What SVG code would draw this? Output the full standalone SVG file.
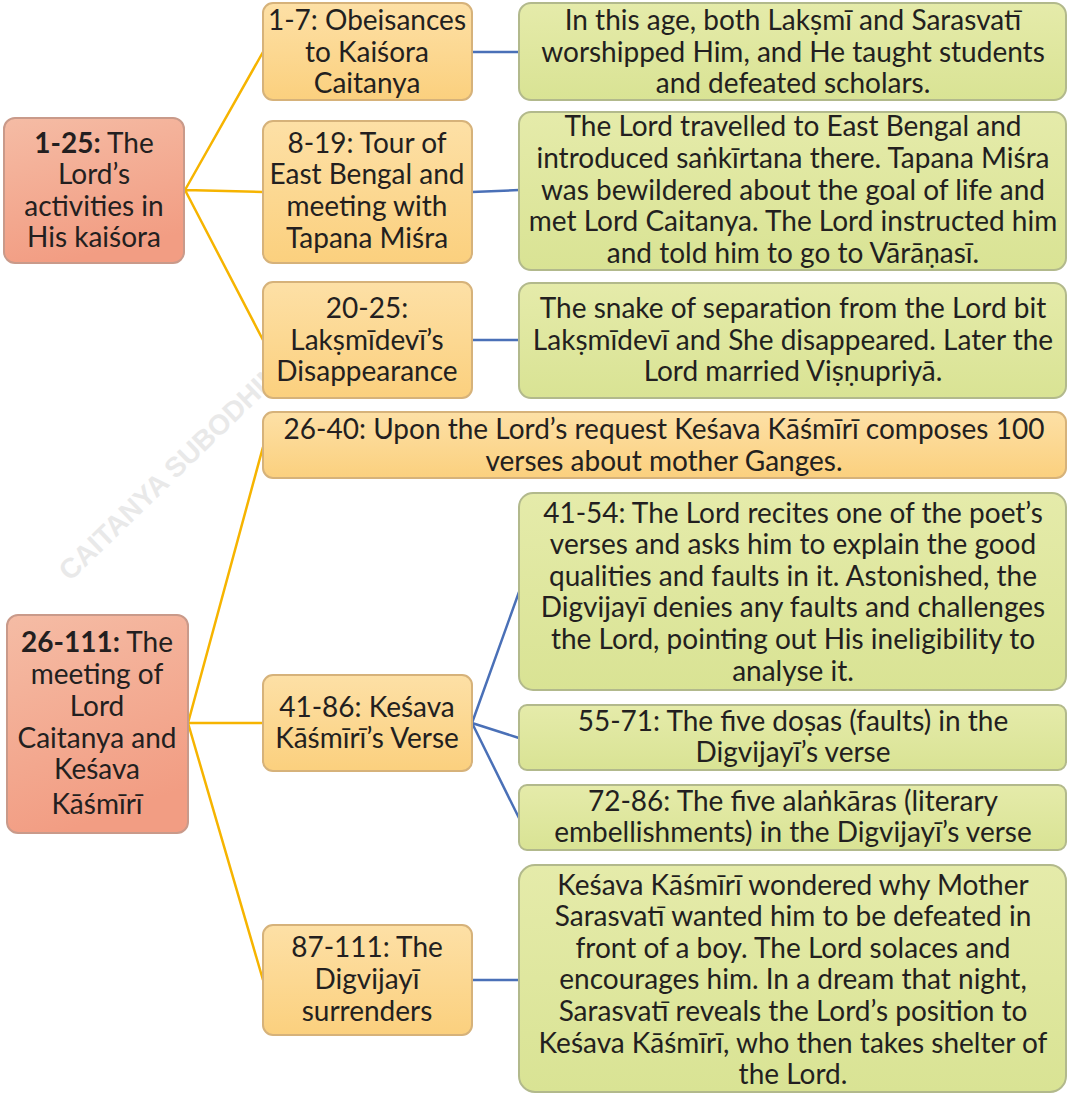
<svg xmlns="http://www.w3.org/2000/svg" width="1069" height="1094" viewBox="0 0 1069 1094">
  <defs>
    <linearGradient id="gRed" x1="0" y1="0" x2="0.3" y2="1">
      <stop offset="0" stop-color="#f5bca5"/>
      <stop offset="1" stop-color="#f29d83"/>
    </linearGradient>
    <linearGradient id="gOrange" x1="0" y1="0" x2="0" y2="1">
      <stop offset="0" stop-color="#fde0a6"/>
      <stop offset="1" stop-color="#fbd07e"/>
    </linearGradient>
    <linearGradient id="gGreen" x1="0" y1="0" x2="0" y2="1">
      <stop offset="0" stop-color="#e5ebaa"/>
      <stop offset="1" stop-color="#d9e394"/>
    </linearGradient>
    <style>
      .red { fill: url(#gRed); stroke: #c99a8a; stroke-width: 2; }
      .orange { fill: url(#gOrange); stroke: #d6b27a; stroke-width: 2; }
      .green { fill: url(#gGreen); stroke: #b2b98c; stroke-width: 2; }
      text { font-family: Lato, "Noto Sans", "DejaVu Sans", sans-serif; font-size: 28px; fill: #231f20; text-anchor: middle; }
      .b { font-weight: 700; }
      .yl { stroke: #f6b400; stroke-width: 2.5; fill: none; }
      .bl { stroke: #4a70b7; stroke-width: 2.5; fill: none; }
      .wm { font-family: "Liberation Sans", Arial, sans-serif; font-weight: 700; font-size: 28px; fill: #e9e9e9; text-anchor: start; }
    </style>
  </defs>
  <rect width="1069" height="1094" fill="#ffffff"/>

  <!-- watermark -->
  <text class="wm" transform="translate(70,582) rotate(-44)">CAITANYA SUBODHINI</text>

  <!-- connectors -->
  <g id="connectors">
    <path class="yl" d="M185,190 L263,52 M185,190 L263,192 M185,190 L263,340"/>
    <path class="yl" d="M188,723 L263,447 M188,723 L263,723 M188,723 L263,980"/>
    <path class="bl" d="M472,52 L520,52 M472,192 L519,190 M472,340 L519,340"/>
    <path class="bl" d="M472,723 L519,592 M472,723 L519,738 M472,723 L519,818"/>
    <path class="bl" d="M472,980 L519,980"/>
  </g>

  <!-- level 1 -->
  <g id="n-1-25">
    <rect class="red" x="4" y="118" width="180" height="145" rx="11"/>
    <text x="94" y="153"><tspan class="b">1-25:</tspan> The</text>
    <text x="94" y="184">Lord’s</text>
    <text x="94" y="216">activities in</text>
    <text x="94" y="247">His kaiśora</text>
  </g>
  <g id="n-26-111">
    <rect class="red" x="7" y="615" width="181" height="218" rx="11"/>
    <text x="97" y="652"><tspan class="b">26-111:</tspan> The</text>
    <text x="97" y="684">meeting of</text>
    <text x="97" y="716">Lord</text>
    <text x="97" y="748">Caitanya and</text>
    <text x="97" y="779">Keśava</text>
    <text x="97" y="814">Kāśmīrī</text>
  </g>

  <!-- level 2 -->
  <g id="n-1-7">
    <rect class="orange" x="263" y="3" width="209" height="97" rx="10"/>
    <text x="367" y="30">1-7: Obeisances</text>
    <text x="367" y="62">to Kaiśora</text>
    <text x="367" y="93">Caitanya</text>
  </g>
  <g id="n-8-19">
    <rect class="orange" x="263" y="121" width="209" height="142" rx="10"/>
    <text x="367" y="153">8-19: Tour of</text>
    <text x="367" y="184">East Bengal and</text>
    <text x="367" y="216">meeting with</text>
    <text x="367" y="248">Tapana Miśra</text>
  </g>
  <g id="n-20-25">
    <rect class="orange" x="263" y="282" width="209" height="116" rx="10"/>
    <text x="367" y="318">20-25:</text>
    <text x="367" y="350">Lakṣmīdevī’s</text>
    <text x="367" y="381">Disappearance</text>
  </g>
  <g id="n-26-40">
    <rect class="orange" x="263" y="412" width="803" height="66" rx="10"/>
    <text x="664" y="439">26-40: Upon the Lord’s request Keśava Kāśmīrī composes 100</text>
    <text x="664" y="471">verses about mother Ganges.</text>
  </g>
  <g id="n-41-86">
    <rect class="orange" x="263" y="675" width="209" height="96" rx="10"/>
    <text x="367" y="717">41-86: Keśava</text>
    <text x="367" y="748">Kāśmīrī’s Verse</text>
  </g>
  <g id="n-87-111">
    <rect class="orange" x="263" y="925" width="209" height="110" rx="10"/>
    <text x="367" y="957">87-111: The</text>
    <text x="367" y="989">Digvijayī</text>
    <text x="367" y="1021">surrenders</text>
  </g>

  <!-- level 3 -->
  <g id="d-1-7">
    <rect class="green" x="519" y="3" width="547" height="97" rx="12"/>
    <text x="793" y="30">In this age, both Lakṣmī and Sarasvatī</text>
    <text x="793" y="62">worshipped Him, and He taught students</text>
    <text x="793" y="93">and defeated scholars.</text>
  </g>
  <g id="d-8-19">
    <rect class="green" x="519" y="112" width="547" height="158" rx="12"/>
    <text x="793" y="136">The Lord travelled to East Bengal and</text>
    <text x="793" y="168">introduced saṅkīrtana there. Tapana Miśra</text>
    <text x="793" y="200">was bewildered about the goal of life and</text>
    <text x="793" y="231">met Lord Caitanya. The Lord instructed him</text>
    <text x="793" y="263">and told him to go to Vārāṇasī.</text>
  </g>
  <g id="d-20-25">
    <rect class="green" x="519" y="283" width="547" height="115" rx="12"/>
    <text x="793" y="318">The snake of separation from the Lord bit</text>
    <text x="793" y="350">Lakṣmīdevī and She disappeared. Later the</text>
    <text x="793" y="381">Lord married Viṣṇupriyā.</text>
  </g>
  <g id="d-41-54">
    <rect class="green" x="519" y="493" width="547" height="197" rx="14"/>
    <text x="793" y="523">41-54: The Lord recites one of the poet’s</text>
    <text x="793" y="554">verses and asks him to explain the good</text>
    <text x="793" y="586">qualities and faults in it. Astonished, the</text>
    <text x="793" y="617">Digvijayī denies any faults and challenges</text>
    <text x="793" y="649">the Lord, pointing out His ineligibility to</text>
    <text x="793" y="681">analyse it.</text>
  </g>
  <g id="d-55-71">
    <rect class="green" x="519" y="705" width="547" height="65" rx="8"/>
    <text x="793" y="731">55-71: The five doṣas (faults) in the</text>
    <text x="793" y="762">Digvijayī’s verse</text>
  </g>
  <g id="d-72-86">
    <rect class="green" x="519" y="785" width="547" height="65" rx="8"/>
    <text x="793" y="811">72-86: The five alaṅkāras (literary</text>
    <text x="793" y="842">embellishments) in the Digvijayī’s verse</text>
  </g>
  <g id="d-87-111">
    <rect class="green" x="519" y="865" width="547" height="227" rx="16"/>
    <text x="793" y="895">Keśava Kāśmīrī wondered why Mother</text>
    <text x="793" y="926">Sarasvatī wanted him to be defeated in</text>
    <text x="793" y="958">front of a boy. The Lord solaces and</text>
    <text x="793" y="989">encourages him. In a dream that night,</text>
    <text x="793" y="1021">Sarasvatī reveals the Lord’s position to</text>
    <text x="793" y="1053">Keśava Kāśmīrī, who then takes shelter of</text>
    <text x="793" y="1084">the Lord.</text>
  </g>
</svg>
